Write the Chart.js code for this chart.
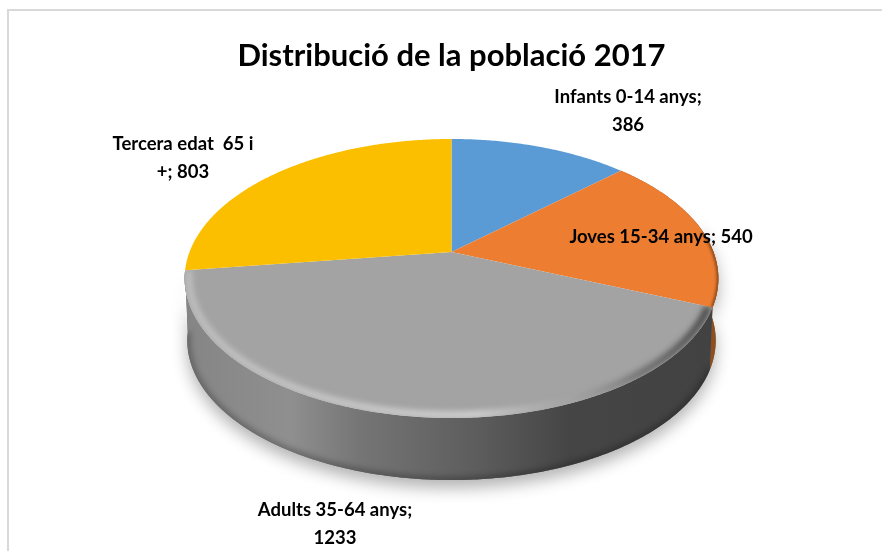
<!DOCTYPE html>
<html>
<head>
<meta charset="utf-8">
<script src="https://cdn.jsdelivr.net/npm/chart.js@4"></script>
<style>
html,body{margin:0;padding:0;background:#fff;overflow:hidden}
#wrap{position:relative;width:882px;height:551px}
#frame{position:absolute;left:7px;top:9px;right:-4px;bottom:-4px;border:2px solid #d9d9d9}
canvas{position:absolute;left:0;top:0}
</style>
</head>
<body>
<div id="wrap"><div id="frame"></div><canvas id="c" width="882" height="551"></canvas></div>
<script>
const titleText = 'Distribució de la població 2017';
const categories = ['Infants 0-14 anys', 'Joves 15-34 anys', 'Adults 35-64 anys', 'Tercera edat  65 i +'];
const values = [386, 540, 1233, 803];
const colors = ['#5b9bd5', '#ed7d31', '#a3a3a3', '#fcbf00'];

const FONT = 'Lato, Carlito, "Open Sans", sans-serif';
// 3D view of the pie: apex position, projection factors, thickness
const view = {cx: 451.5, cy: 252, a: 262, b: 134.5, k: -0.19, depth: 62, shrink: 0.99};
const labelBoxes = [
  {x: 628, y: 97, wrap: 165},
  {x: 661, y: 237, wrap: 220},
  {x: 335, y: 510, wrap: 170},
  {x: 183, y: 144, wrap: 150}
];

function proj(angle, r) {
  r = r === undefined ? 1 : r;
  const u = Math.cos(angle) * r, v = Math.sin(angle) * r;
  const d = 1 + view.k * v;
  return [view.a * u / d, view.b * v / d];
}
function topPt(angle, r) { const p = proj(angle, r); return [view.cx + p[0], view.cy + p[1]]; }
function botPt(angle) { const p = proj(angle); return [view.cx + p[0] * view.shrink, view.cy + p[1] + view.depth]; }
function trace(ctx, fn, a0, a1, move, extra) {
  const n = Math.max(2, Math.ceil(Math.abs(a1 - a0) / 0.01));
  for (let i = 0; i <= n; i++) {
    const a = a0 + (a1 - a0) * i / n;
    const p = fn(a, extra);
    if (i === 0 && move) ctx.moveTo(p[0], p[1]); else ctx.lineTo(p[0], p[1]);
  }
}
function sidePath(ctx, a0, a1) {
  ctx.beginPath();
  trace(ctx, topPt, a0, a1, true);
  trace(ctx, botPt, a1, a0, false);
  ctx.closePath();
}
function slicePath(ctx, a0, a1) {
  ctx.beginPath();
  ctx.moveTo(view.cx, view.cy);
  trace(ctx, topPt, a0, a1, false);
  ctx.closePath();
}

const pie3d = {
  id: 'pie3d',
  beforeDatasetsDraw(chart) {
    const ctx = chart.ctx;
    const arcs = chart.getDatasetMeta(0).data;
    const x0 = view.cx - 270, x1 = view.cx + 270;
    const pos = x => (x - x0) / (x1 - x0);
    const g = arcs[2], o = arcs[1];

    // Side wall with soft drop shadow
    ctx.save();
    ctx.shadowColor = 'rgba(0,0,0,0.30)';
    ctx.shadowBlur = 16;
    ctx.shadowOffsetY = 8;
    sidePath(ctx, o.startAngle + 0.5, g.endAngle);
    ctx.fillStyle = '#666';
    ctx.fill();
    ctx.restore();

    const sg = ctx.createLinearGradient(x0, 0, x1, 0);
    sg.addColorStop(pos(185), '#858585');
    sg.addColorStop(pos(290), '#8f8f8f');
    sg.addColorStop(pos(360), '#757575');
    sg.addColorStop(pos(480), '#5c5c5c');
    sg.addColorStop(pos(570), '#454545');
    sg.addColorStop(pos(720), '#424242');

    sidePath(ctx, o.startAngle, o.endAngle);
    ctx.fillStyle = '#8f4e1c';
    ctx.fill();
    sidePath(ctx, g.startAngle, g.endAngle);
    ctx.fillStyle = sg;
    ctx.fill();

    // darker lower lip of the wall
    ctx.save();
    sidePath(ctx, g.startAngle, g.endAngle);
    ctx.clip();
    ctx.filter = 'blur(3px)';
    ctx.beginPath();
    trace(ctx, botPt, g.startAngle, g.endAngle, true);
    ctx.strokeStyle = 'rgba(0,0,0,0.35)';
    ctx.lineWidth = 5;
    ctx.stroke();
    ctx.restore();

    // Top faces
    arcs.forEach(arc => {
      slicePath(ctx, arc.startAngle, arc.endAngle);
      ctx.fillStyle = arc.options.backgroundColor;
      ctx.fill();
    });

    // Bevel on the grey slice
    ctx.save();
    slicePath(ctx, g.startAngle, g.endAngle);
    ctx.clip();
    const hg = ctx.createLinearGradient(x0, 0, x1, 0);
    hg.addColorStop(pos(185), 'rgba(205,205,205,0.8)');
    hg.addColorStop(pos(480), 'rgba(225,225,225,0.9)');
    hg.addColorStop(pos(570), 'rgba(165,165,165,0.5)');
    hg.addColorStop(pos(640), 'rgba(90,90,90,0.85)');
    hg.addColorStop(pos(720), 'rgba(40,40,40,1)');
    ctx.filter = 'blur(3px)';
    ctx.beginPath();
    trace(ctx, topPt, g.startAngle, g.endAngle, true, 0.985);
    ctx.strokeStyle = hg;
    ctx.lineWidth = 6;
    ctx.stroke();
    ctx.restore();

    // Dark rim on the orange slice
    ctx.save();
    slicePath(ctx, o.startAngle, o.endAngle);
    ctx.clip();
    ctx.filter = 'blur(1.5px)';
    ctx.beginPath();
    trace(ctx, topPt, o.startAngle + 0.6, o.endAngle, true);
    ctx.strokeStyle = 'rgba(70,35,5,0.7)';
    ctx.lineWidth = 3;
    ctx.stroke();
    ctx.restore();

    return false;
  },
  afterDraw(chart) {
    const ctx = chart.ctx;
    ctx.save();
    ctx.font = 'bold 18.5px ' + FONT;
    ctx.fillStyle = '#000';
    ctx.textAlign = 'center';
    ctx.textBaseline = 'middle';
    categories.forEach((cat, i) => {
      const box = labelBoxes[i];
      const words = (cat + '; ' + values[i]).split(' ');
      const lines = [];
      let line = '';
      words.forEach((w, j) => {
        const t = j === 0 ? w : line + ' ' + w;
        if (j > 0 && w !== '' && ctx.measureText(t).width > box.wrap) {
          lines.push(line);
          line = w;
        } else {
          line = t;
        }
      });
      lines.push(line);
      lines.forEach((l, j) => ctx.fillText(l, box.x, box.y + j * 28));
    });
    ctx.restore();
  }
};

new Chart(document.getElementById('c'), {
  type: 'pie',
  data: {
    labels: categories,
    datasets: [{data: values, backgroundColor: colors, borderWidth: 0}]
  },
  options: {
    responsive: false,
    animation: false,
    layout: {padding: {left: 21, right: 0, top: 0, bottom: 0}},
    plugins: {
      legend: {display: false},
      tooltip: {enabled: false},
      title: {
        display: true,
        text: titleText,
        color: '#000',
        font: {family: FONT, size: 31, weight: 'bold'},
        padding: {top: 37, bottom: 10}
      }
    }
  },
  plugins: [pie3d]
});
</script>
</body>
</html>
